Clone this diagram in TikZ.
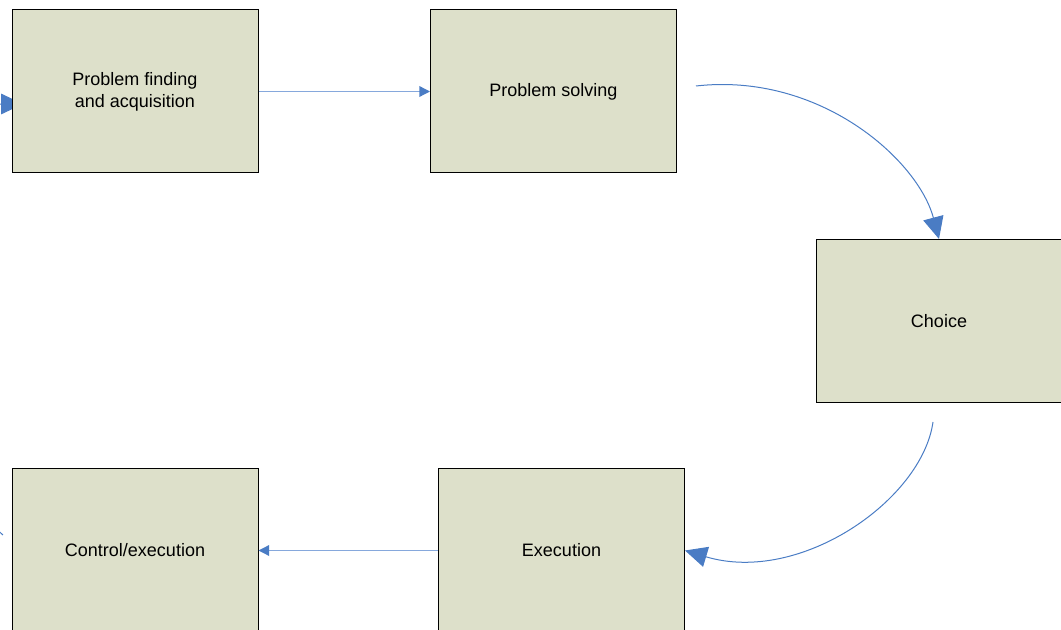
\documentclass[tikz,border=0pt]{standalone}
\usepackage{fontspec}
\setmainfont{Liberation Sans}
\usetikzlibrary{arrows.meta}
\definecolor{boxfill}{HTML}{DDE0CA}
\definecolor{arrowblue}{HTML}{4A7CC4}
\definecolor{lineblue}{HTML}{86A8DC}
\begin{document}
\begin{tikzpicture}[x=0.75pt, y=-0.75pt,
    stage/.style={draw=black, fill=boxfill, line width=0.75pt, minimum width=184.5pt,
      minimum height=122.25pt, inner sep=0pt, align=center,
      font=\fontsize{13.5}{16.5}\selectfont},
    flow/.style={draw=lineblue, line width=1pt,
      -{Triangle[length=8pt, width=8pt, color=arrowblue]}},
    loopback/.style={draw=arrowblue, line width=0.75pt,
      -{Triangle[length=16.5pt, width=15.5pt]}}]
  \useasboundingbox (0,0) rectangle (1061,630);
  \clip (0,0) rectangle (1061,630);
  % loop back to the start, its tip hidden under the first box
  \coordinate (s3) at (3, 535);
  \coordinate (findin) at (23, 104);
  \draw[loopback] (s3) .. controls (-130, 420) and (-120, 104) .. (findin);
  \node[stage] (find) at (135, 91.5) {Problem finding\\and acquisition};
  \node[stage] (solve) at (553.5, 91.5) {Problem solving};
  \node[stage] (choice) at (939, 321) {Choice};
  \node[stage] (control) at (135, 550.5) {Control/execution};
  \node[stage] (exec) at (561.5, 550.5) {Execution};
  \coordinate (s1) at (696, 86);
  \coordinate (s2) at (933, 422);
  \draw[flow] (find.east) -- (solve.west);
  \draw[loopback] (s1) .. controls (820, 72) and (918, 160) .. (choice.north);
  \draw[loopback] (s2) .. controls (922, 500) and (800, 585) .. (exec.east);
  \draw[flow] (exec.west) -- (control.east);
\end{tikzpicture}
\end{document}
